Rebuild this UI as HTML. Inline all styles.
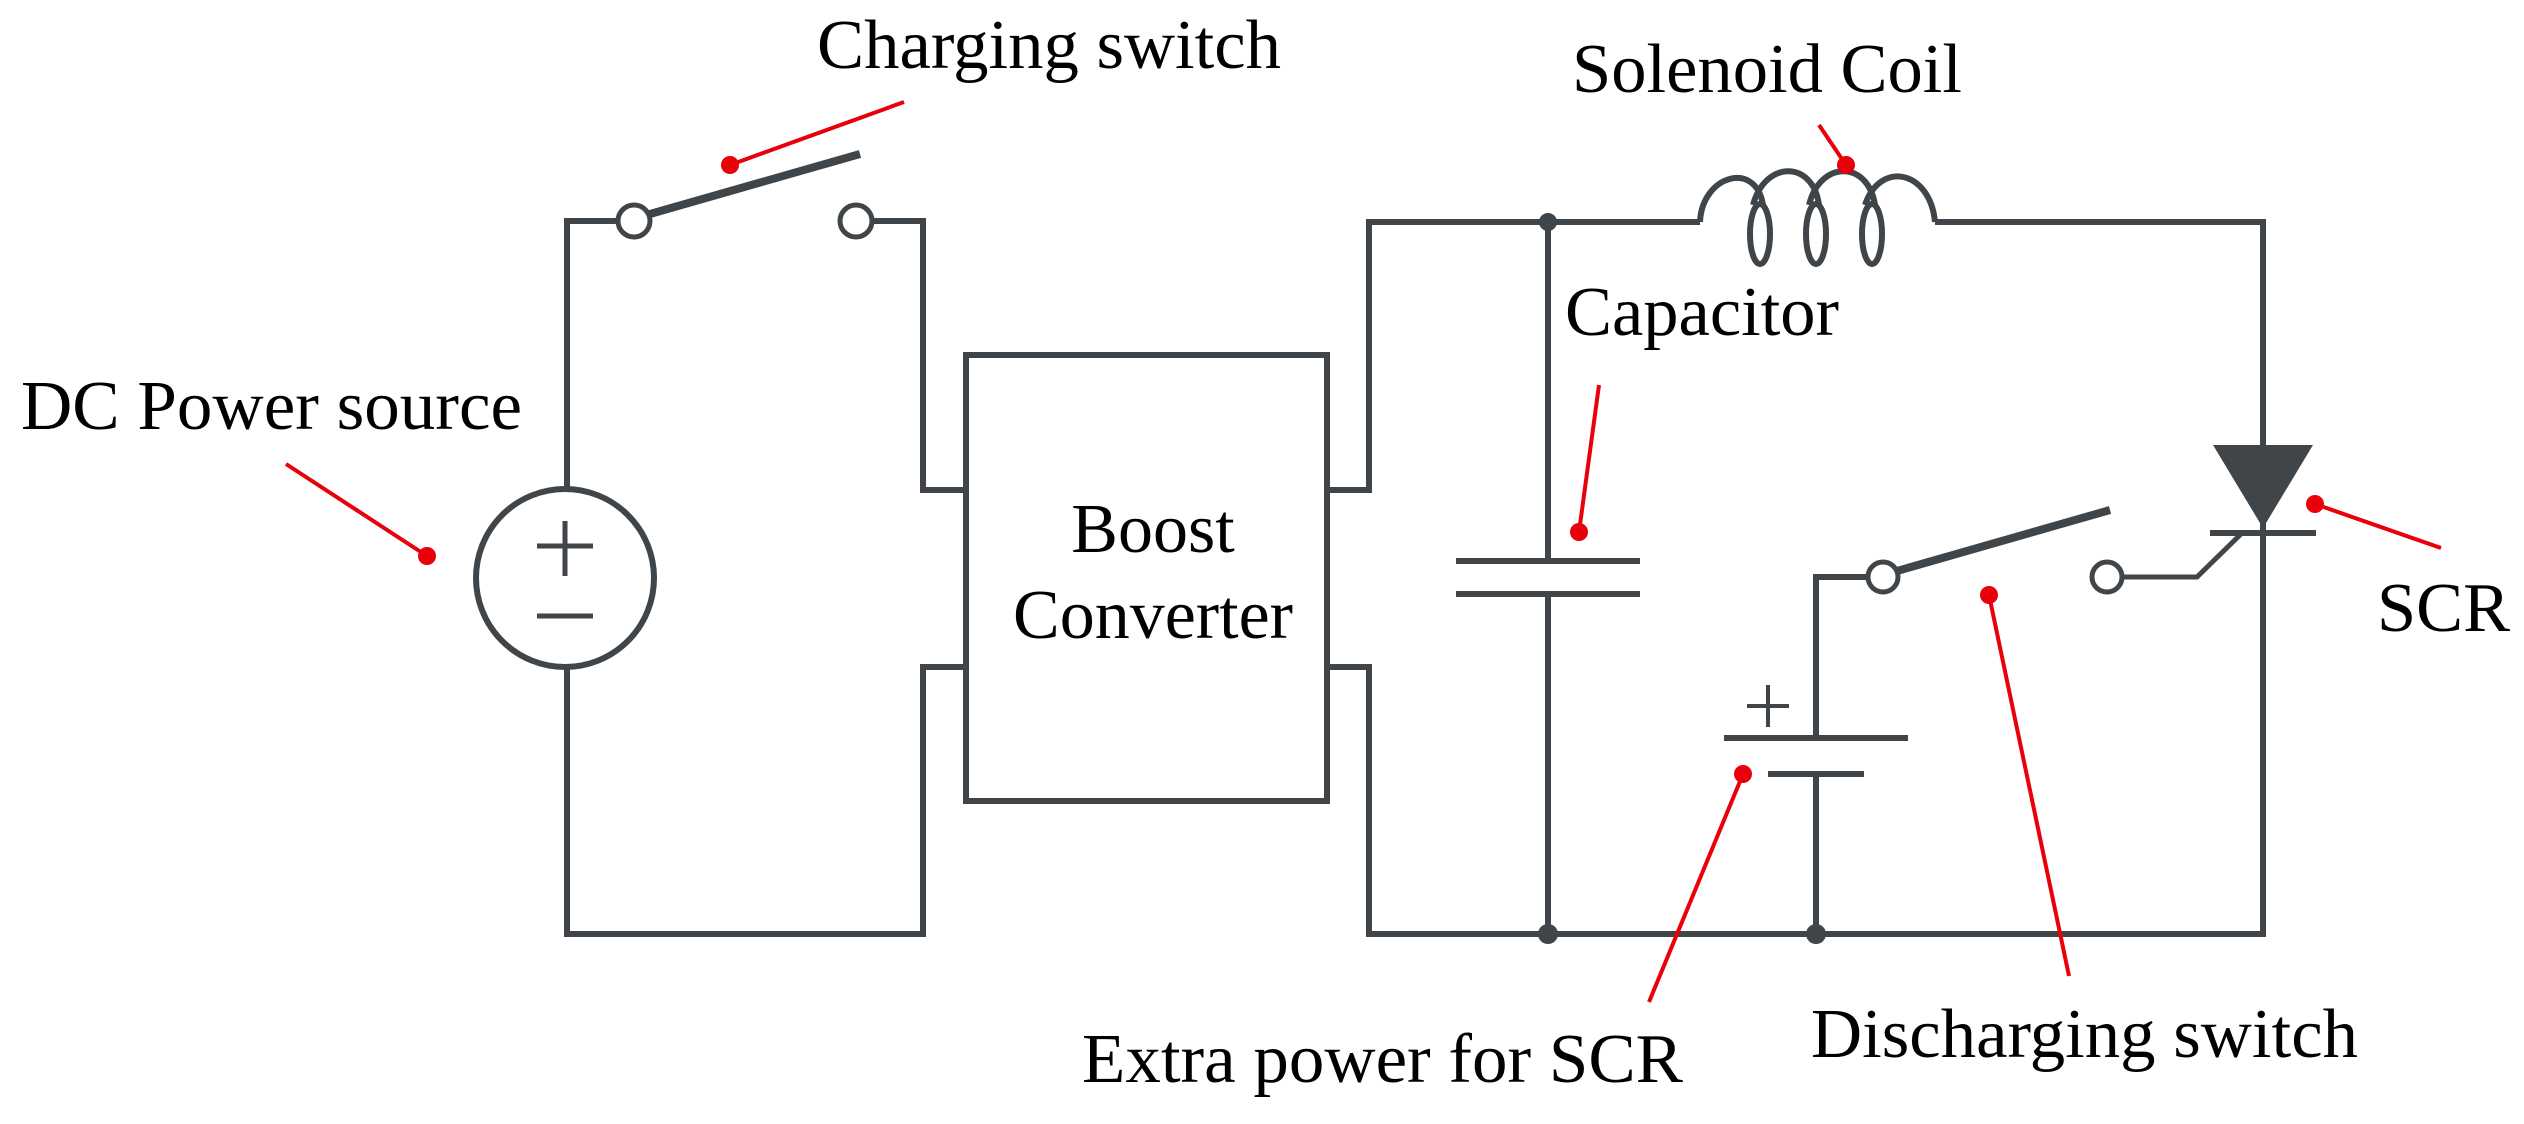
<!DOCTYPE html>
<html><head><meta charset="utf-8"><style>
html,body{margin:0;padding:0;background:#fff;}
svg{display:block;}
text{font-family:"Liberation Serif",serif;font-size:70px;fill:#000;}
</style></head><body>
<svg width="2524" height="1124" viewBox="0 0 2524 1124" xmlns="http://www.w3.org/2000/svg">
<g fill="none" stroke="#3f4549" stroke-width="6" stroke-linejoin="miter">
<!-- left loop -->
<polyline points="616,221 567,221 567,488"/>
<polyline points="567,668 567,934 923,934 923,667 966,667"/>
<polyline points="872,221 923,221 923,490 966,490"/>
<ellipse cx="565" cy="578" rx="89" ry="89"/>
<line x1="565" y1="521" x2="565" y2="576" stroke-width="5"/>
<line x1="537" y1="546" x2="593" y2="546" stroke-width="5"/>
<line x1="537" y1="616" x2="593" y2="616" stroke-width="5"/>
<circle cx="634" cy="221" r="16" stroke-width="5"/>
<circle cx="856" cy="221" r="16" stroke-width="5"/>
<line x1="650" y1="214" x2="860" y2="154" stroke-width="8"/>
<rect x="966" y="355" width="361" height="446"/>
<!-- right -->
<polyline points="1327,490 1369,490 1369,222 1700,222"/>
<polyline points="1327,667 1369,667 1369,934 2263,934 2263,222 1935,222"/>
<line x1="1548" y1="222" x2="1548" y2="561"/>
<line x1="1548" y1="594" x2="1548" y2="934"/>
<line x1="1456" y1="561" x2="1640" y2="561"/>
<line x1="1456" y1="594" x2="1640" y2="594"/>
<!-- inductor -->
<path d="M1700,222 C1702,175 1756,160 1763,205 M1753,205 C1765,160 1813,160 1819,205 M1809,205 C1820,160 1868,160 1875,205 M1865,205 C1880,160 1930,170 1935,222" stroke-width="6"/>
<ellipse cx="1760" cy="234" rx="10" ry="30"/>
<ellipse cx="1816" cy="234" rx="10" ry="30"/>
<ellipse cx="1872" cy="234" rx="10" ry="30"/>
<!-- SCR -->
<polygon points="2213,445 2313,445 2263,528" fill="#3f4549" stroke="none"/>
<line x1="2210" y1="533" x2="2316" y2="533"/>
<polyline points="2242,533 2197,577 2122,577" stroke-width="5"/>
<circle cx="2107" cy="577" r="15" stroke-width="5"/>
<!-- discharge switch -->
<circle cx="1883" cy="577" r="15" stroke-width="5"/>
<line x1="1897" y1="571" x2="2110" y2="510" stroke-width="8"/>
<polyline points="1868,577 1816,577 1816,738"/>
<line x1="1724" y1="738" x2="1908" y2="738"/>
<line x1="1768" y1="774" x2="1864" y2="774"/>
<line x1="1816" y1="774" x2="1816" y2="934"/>
<line x1="1747" y1="706" x2="1789" y2="706" stroke-width="4"/>
<line x1="1768" y1="685" x2="1768" y2="727" stroke-width="4"/>
</g>
<g fill="#3f4549">
<circle cx="1548" cy="222" r="9"/>
<circle cx="1548" cy="934" r="10"/>
<circle cx="1816" cy="934" r="10"/>
</g>
<g stroke="#e8000b" stroke-width="4" fill="none">
<line x1="730" y1="165" x2="904" y2="102"/>
<line x1="286" y1="464" x2="427" y2="556"/>
<line x1="1819" y1="125" x2="1846" y2="165"/>
<line x1="1599" y1="385" x2="1579" y2="532"/>
<line x1="2315" y1="504" x2="2441" y2="548"/>
<line x1="1989" y1="595" x2="2069" y2="976"/>
<line x1="1743" y1="774" x2="1649" y2="1002"/>
</g>
<g fill="#e8000b">
<circle cx="730" cy="165" r="9"/>
<circle cx="427" cy="556" r="9"/>
<circle cx="1846" cy="165" r="9"/>
<circle cx="1579" cy="532" r="9"/>
<circle cx="2315" cy="504" r="9"/>
<circle cx="1989" cy="595" r="9"/>
<circle cx="1743" cy="774" r="9"/>
</g>
<text x="817" y="68" textLength="464" lengthAdjust="spacingAndGlyphs">Charging switch</text>
<text x="21" y="429" textLength="501" lengthAdjust="spacingAndGlyphs">DC Power source</text>
<text x="1153" y="552" text-anchor="middle">Boost</text>
<text x="1153" y="638" text-anchor="middle">Converter</text>
<text x="1572" y="92" textLength="390" lengthAdjust="spacingAndGlyphs">Solenoid Coil</text>
<text x="1565" y="335" textLength="274" lengthAdjust="spacingAndGlyphs">Capacitor</text>
<text x="2377" y="631" textLength="133" lengthAdjust="spacingAndGlyphs">SCR</text>
<text x="1811" y="1057" textLength="547" lengthAdjust="spacingAndGlyphs">Discharging switch</text>
<text x="1082" y="1082" textLength="601" lengthAdjust="spacingAndGlyphs">Extra power for SCR</text>
</svg>
</body></html>
